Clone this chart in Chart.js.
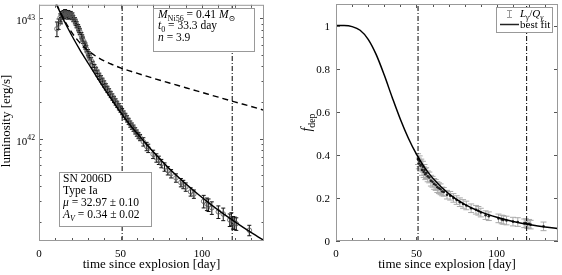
<!DOCTYPE html>
<html>
<head>
<meta charset="utf-8">
<script src="https://cdn.jsdelivr.net/npm/chart.js@4.4.1/dist/chart.umd.min.js"></script>
<style>
  body { margin: 0; background: #fff; }
  #wrap { position: relative; width: 562px; height: 275px; }
  canvas { position: absolute; top: 0; }
</style>
</head>
<body>
<div id="wrap">
  <canvas id="lumChart" width="280" height="275" style="left:0"></canvas>
  <canvas id="depChart" width="282" height="275" style="left:280px"></canvas>
</div>
<script>
// observed light curve (days since explosion, erg/s, relative error)
const lumTime = [11, 12, 13, 13.5, 14, 14.5, 15, 15.5, 16, 16.5,
  17, 17.5, 18, 18.5, 19, 19.5, 20, 20.5, 21, 22,
  22.5, 23, 24, 24.5, 25, 26, 26.5, 27, 28, 28.5,
  29, 30, 30.5, 31, 32, 33, 34, 35, 36, 37,
  38, 39, 40, 41, 42, 43, 44, 45, 46, 47,
  48, 49, 50, 51, 52, 53, 54, 55, 56, 57,
  58, 59, 60, 61, 62, 64, 66, 67, 70, 72,
  73.5, 75, 77, 79, 81, 84, 87, 88.5, 90, 93,
  95, 101, 103, 104, 106, 110, 113, 117, 118, 119,
  120, 121, 129];
const lumObs = [8.2e42, 9.0e42, 1.02e43, 9.6e42, 1.08e43, 1.05e43, 1.10e43, 1.06e43, 1.12e43, 1.08e43,
  1.10e43, 1.05e43, 1.10e43, 1.07e43, 1.06e43, 1.08e43, 1.04e43, 1.05e43, 1.00e43, 9.6e42,
  9.3e42, 8.9e42, 8.4e42, 8.1e42, 7.8e42, 7.2e42, 6.9e42, 6.6e42, 6.1e42, 5.9e42,
  5.6e42, 5.2e42, 5.0e42, 4.8e42, 4.45e42, 4.15e42, 3.9e42, 3.7e42, 3.5e42, 3.3e42,
  3.15e42, 3.0e42, 2.85e42, 2.7e42, 2.57e42, 2.45e42, 2.33e42, 2.22e42, 2.12e42, 2.02e42,
  1.93e42, 1.84e42, 1.76e42, 1.68e42, 1.6e42, 1.53e42, 1.46e42, 1.39e42, 1.32e42, 1.27e42,
  1.22e42, 1.16e42, 1.11e42, 1.06e42, 1.02e42, 9.4e41, 8.6e41, 8.3e41, 7.4e41, 6.9e41,
  6.6e41, 6.2e41, 5.8e41, 5.4e41, 5.1e41, 4.7e41, 4.3e41, 4.15e41, 3.95e41, 3.6e41,
  3.45e41, 3.0e41, 2.85e41, 2.8e41, 2.65e41, 2.45e41, 2.35e41, 2.1e41, 2.15e41, 2.0e41,
  1.98e41, 1.95e41, 1.72e41];
const lumErr = [0.14, 0.10, 0.07, 0.06, 0.06, 0.06, 0.06, 0.06, 0.06, 0.06,
  0.06, 0.06, 0.06, 0.06, 0.06, 0.06, 0.06, 0.06, 0.06, 0.06,
  0.06, 0.06, 0.06, 0.06, 0.06, 0.06, 0.06, 0.06, 0.06, 0.06,
  0.06, 0.06, 0.06, 0.06, 0.06, 0.06, 0.06, 0.06, 0.06, 0.06,
  0.06, 0.06, 0.06, 0.06, 0.06, 0.06, 0.06, 0.06, 0.06, 0.06,
  0.06, 0.06, 0.06, 0.06, 0.06, 0.06, 0.06, 0.06, 0.06, 0.06,
  0.06, 0.06, 0.06, 0.06, 0.06, 0.08, 0.08, 0.08, 0.08, 0.08,
  0.08, 0.08, 0.08, 0.08, 0.08, 0.08, 0.08, 0.08, 0.08, 0.08,
  0.08, 0.12, 0.12, 0.12, 0.12, 0.12, 0.12, 0.12, 0.12, 0.12,
  0.12, 0.12, 0.10];

// model curves
const fitTime = [0, 5, 10, 15, 20, 25, 30, 35, 40, 45, 50, 55, 60, 70, 80, 90, 100, 110, 120, 130, 140];
const fitLum = [3.24e43, 2.07e43, 1.385e43, 9.8e42, 7.25e42, 5.51e42, 4.27e42, 3.32e42, 2.60e42, 2.07e42,
  1.65e42, 1.34e42, 1.11e42, 7.75e41, 5.6e41, 4.2e41, 3.23e41, 2.53e41, 2.03e41, 1.65e41, 1.36e41];
const gammaLum = [3.24e43, 2.07e43, 1.39e43, 1.0e43, 7.69e42, 6.29e42, 5.41e42, 4.84e42, 4.43e42, 4.13e42,
  3.88e42, 3.68e42, 3.50e42, 3.18e42, 2.90e42, 2.65e42, 2.42e42, 2.21e42, 2.02e42, 1.85e42, 1.69e42];
const fitDep = [1, 0.9997, 0.995, 0.978, 0.936, 0.865, 0.770, 0.665, 0.565, 0.477,
  0.403, 0.342, 0.293, 0.220, 0.170, 0.135, 0.110, 0.091, 0.077, 0.065, 0.056];

// deposition fraction L_gamma / Q_gamma
const depTime = [51, 51.5, 52, 52.5, 53, 53.5, 54, 54.5, 55, 55.5,
  56, 57, 58, 59, 60, 61, 62, 63, 64, 65,
  66, 67, 69, 71, 73, 75, 77, 79, 81, 84,
  87, 88.5, 90, 93, 95, 101, 103, 104, 106, 110,
  113, 117, 118, 119, 120, 121, 129];
const depObs = [0.38, 0.36, 0.37, 0.35, 0.355, 0.33, 0.345, 0.32, 0.33, 0.31,
  0.315, 0.30, 0.295, 0.28, 0.275, 0.265, 0.26, 0.25, 0.245, 0.24,
  0.23, 0.228, 0.215, 0.21, 0.20, 0.19, 0.18, 0.172, 0.165, 0.152,
  0.145, 0.14, 0.132, 0.12, 0.115, 0.105, 0.10, 0.098, 0.095, 0.09,
  0.088, 0.082, 0.083, 0.078, 0.08, 0.076, 0.068];
const depErr = [0.025, 0.025, 0.025, 0.025, 0.025, 0.025, 0.025, 0.025, 0.025, 0.025,
  0.025, 0.025, 0.025, 0.025, 0.025, 0.025, 0.025, 0.025, 0.025, 0.025,
  0.02, 0.02, 0.02, 0.02, 0.02, 0.02, 0.02, 0.02, 0.02, 0.02,
  0.02, 0.02, 0.02, 0.02, 0.02, 0.02, 0.02, 0.02, 0.02, 0.02,
  0.02, 0.02, 0.02, 0.02, 0.02, 0.02, 0.02];

// vertical markers, axes and ticks
const markTimes = [51, 118.5];
const timeRange = [0, 138];
const lumRange = [1.4e41, 1.3e43];
const depRange = [0, 1.1];
const timeTicks = [0, 10, 20, 30, 40, 50, 60, 70, 80, 90, 100, 110, 120, 130];
const timeLabels = [0, 50, 100];
const lumTicks = [2e41, 3e41, 4e41, 5e41, 6e41, 7e41, 8e41, 9e41, 1e42,
  2e42, 3e42, 4e42, 5e42, 6e42, 7e42, 8e42, 9e42, 1e43];
const lumLabels = [1e42, 1e43];
const depTicks = [0, 0.2, 0.4, 0.6, 0.8, 1];

const serif = '"Liberation Serif", "DejaVu Serif", serif';
function ff(size, it) { return (it ? 'italic ' : '') + size + 'px ' + serif; }

function richWidth(ctx, parts, size) {
  let w = 0;
  parts.forEach(p => {
    ctx.font = ff(p.sub || p.sup ? size * 0.7 : size, p.it);
    w += ctx.measureText(p.t).width;
  });
  return w;
}
function rich(ctx, x, y, parts, size) {
  ctx.textAlign = 'left';
  ctx.textBaseline = 'alphabetic';
  parts.forEach(p => {
    ctx.font = ff(p.sub || p.sup ? size * 0.7 : size, p.it);
    const dy = p.sub ? size * 0.28 : (p.sup ? -size * 0.4 : 0);
    ctx.fillText(p.t, x, y + dy);
    x += ctx.measureText(p.t).width;
  });
  return x;
}
function box(ctx, x, y, w, h) {
  ctx.fillStyle = '#fff';
  ctx.fillRect(x, y, w, h);
  ctx.strokeStyle = '#999';
  ctx.lineWidth = 1;
  ctx.strokeRect(x + 0.5, y + 0.5, w - 1, h - 1);
  ctx.fillStyle = '#000';
}

function pts(xs, ys) { return xs.map((t, i) => ({ x: t, y: ys[i] })); }
function vline(t, range) {
  return {
    type: 'line', data: [{ x: t, y: range[0] }, { x: t, y: range[1] }],
    borderColor: '#000', borderWidth: 1, borderDash: [5, 2, 1, 2], pointRadius: 0
  };
}

function makeErrorBars(times, vals, lo, hi, color, cap) {
  return {
    id: 'errorBars',
    beforeDatasetsDraw(chart) {
      const { ctx, scales: { x, y } } = chart;
      ctx.save();
      ctx.strokeStyle = color;
      ctx.lineWidth = 1;
      ctx.beginPath();
      times.forEach((t, i) => {
        const px = x.getPixelForValue(t);
        const y1 = y.getPixelForValue(lo(vals[i], i));
        const y2 = y.getPixelForValue(hi(vals[i], i));
        ctx.moveTo(px, y1); ctx.lineTo(px, y2);
        ctx.moveTo(px - cap, y1); ctx.lineTo(px + cap, y1);
        ctx.moveTo(px - cap, y2); ctx.lineTo(px + cap, y2);
      });
      ctx.stroke();
      ctx.restore();
    }
  };
}

function makeFrame(isMajorY) {
  return {
    id: 'frame',
    afterDatasetsDraw(chart) {
      const { ctx, chartArea: a, scales: { x, y } } = chart;
      ctx.save();
      ctx.strokeStyle = '#555';
      ctx.lineWidth = 1;
      ctx.beginPath();
      x.ticks.forEach(t => {
        const px = Math.round(x.getPixelForValue(t.value)) + 0.5;
        const len = t.value % 50 === 0 ? 4 : 3;
        ctx.moveTo(px, a.bottom); ctx.lineTo(px, a.bottom - len);
        ctx.moveTo(px, a.top); ctx.lineTo(px, a.top + len);
      });
      y.ticks.forEach(t => {
        const py = Math.round(y.getPixelForValue(t.value)) + 0.5;
        const len = isMajorY(t.value) ? 4 : 2.5;
        ctx.moveTo(a.left, py); ctx.lineTo(a.left + len, py);
        ctx.moveTo(a.right, py); ctx.lineTo(a.right - len, py);
      });
      ctx.stroke();
      ctx.strokeStyle = '#999';
      ctx.strokeRect(a.left + 0.5, a.top + 0.5, a.right - a.left - 1, a.bottom - a.top - 1);
      ctx.restore();
    }
  };
}

function timeLabelsAndTitle(ctx, x, a) {
  ctx.fillStyle = '#000';
  ctx.font = ff(11);
  ctx.textAlign = 'center';
  ctx.textBaseline = 'alphabetic';
  timeLabels.forEach(v => ctx.fillText(String(v), x.getPixelForValue(v), 257));
  ctx.font = ff(13);
  ctx.fillText('time since explosion [day]', (a.left + a.right) / 2, 268);
}

const lumText = {
  id: 'lumText',
  afterDraw(chart) {
    const { ctx, chartArea: a, scales: { x, y } } = chart;
    ctx.save();
    ctx.fillStyle = '#000';
    lumLabels.forEach(v => {
      const parts = [{ t: '10' }, { t: String(Math.round(Math.log10(v))), sup: true }];
      rich(ctx, 35 - richWidth(ctx, parts, 11), y.getPixelForValue(v) + 6, parts, 11);
    });
    timeLabelsAndTitle(ctx, x, a);
    ctx.save();
    ctx.translate(10, (a.top + a.bottom) / 2 - 2);
    ctx.rotate(-Math.PI / 2);
    ctx.font = ff(13);
    ctx.textAlign = 'center';
    ctx.fillText('luminosity [erg/s]', 0, 0);
    ctx.restore();

    box(ctx, 153, 8, 102, 44);
    rich(ctx, 158, 17.5, [{ t: 'M', it: 1 }, { t: 'Ni56', sub: 1 }, { t: ' = 0.41 ' }, { t: 'M', it: 1 }, { t: '\u2299', sub: 1 }], 11.5);
    rich(ctx, 158, 29, [{ t: 't', it: 1 }, { t: '0', sub: 1 }, { t: ' = 33.3 day' }], 11.5);
    rich(ctx, 158, 41, [{ t: 'n', it: 1 }, { t: ' = 3.9' }], 11.5);

    box(ctx, 59, 172, 93, 55);
    rich(ctx, 63, 182, [{ t: 'SN 2006D' }], 11.5);
    rich(ctx, 63, 194, [{ t: 'Type Ia' }], 11.5);
    rich(ctx, 63, 206, [{ t: '\u03bc', it: 1 }, { t: ' = 32.97 \u00b1 0.10' }], 11.5);
    rich(ctx, 63, 218, [{ t: 'A', it: 1 }, { t: 'V', sub: 1, it: 1 }, { t: ' = 0.34 \u00b1 0.02' }], 11.5);
    ctx.restore();
  }
};

const depText = {
  id: 'depText',
  afterDraw(chart) {
    const { ctx, chartArea: a, scales: { x, y } } = chart;
    ctx.save();
    ctx.fillStyle = '#000';
    ctx.font = ff(11);
    ctx.textAlign = 'right';
    depTicks.forEach(v => ctx.fillText(String(Math.round(v * 10) / 10), a.left - 6, y.getPixelForValue(v) + 4));
    timeLabelsAndTitle(ctx, x, a);
    const fparts = [{ t: 'f', it: 1 }, { t: 'dep', sub: 1 }];
    ctx.save();
    ctx.translate(31, (a.top + a.bottom) / 2);
    ctx.rotate(-Math.PI / 2);
    rich(ctx, -richWidth(ctx, fparts, 14) / 2, 0, fparts, 14);
    ctx.restore();

    box(ctx, 216, 7, 57, 26);
    ctx.strokeStyle = '#999';
    ctx.beginPath();
    ctx.moveTo(229.5, 10); ctx.lineTo(229.5, 17.5);
    ctx.moveTo(227, 10.5); ctx.lineTo(232, 10.5);
    ctx.moveTo(227, 17.5); ctx.lineTo(232, 17.5);
    ctx.stroke();
    rich(ctx, 240, 17, [{ t: 'L', it: 1 }, { t: '\u03b3', sub: 1, it: 1 }, { t: '/' }, { t: 'Q', it: 1 }, { t: '\u03b3', sub: 1, it: 1 }], 11);
    ctx.strokeStyle = '#222';
    ctx.lineWidth = 1.5;
    ctx.beginPath();
    ctx.moveTo(220, 24.5); ctx.lineTo(239, 24.5);
    ctx.stroke();
    rich(ctx, 240, 28, [{ t: 'best fit' }], 11);
    ctx.restore();
  }
};

function timeAxis(width) {
  return {
    type: 'linear', min: timeRange[0], max: timeRange[1],
    grid: { display: false, drawTicks: false }, border: { display: false },
    ticks: { display: false, includeBounds: false },
    afterBuildTicks: s => { s.ticks = timeTicks.map(v => ({ value: v })); },
    afterFit: s => { s.height = 34; }
  };
}

// Luminosity panel
new Chart(document.getElementById('lumChart'), {
  type: 'scatter',
  data: {
    datasets: [
      { type: 'line', data: pts(fitTime, fitLum), borderColor: '#000', borderWidth: 1.4,
        pointRadius: 0, cubicInterpolationMode: 'monotone' },
      { type: 'line', data: pts(fitTime, gammaLum), borderColor: '#000', borderWidth: 1.4,
        borderDash: [6, 4], pointRadius: 0, cubicInterpolationMode: 'monotone' },
      vline(markTimes[0], lumRange),
      vline(markTimes[1], lumRange),
      { data: pts(lumTime, lumObs), pointStyle: 'circle', pointRadius: 2.3,
        borderColor: '#555', borderWidth: 0.8, backgroundColor: 'rgba(0,0,0,0)' }
    ]
  },
  options: {
    responsive: false, animation: false, devicePixelRatio: 1,
    layout: { padding: { left: 0, right: 16, top: 1, bottom: 0 } },
    plugins: { legend: { display: false }, tooltip: { enabled: false } },
    scales: {
      x: timeAxis(),
      y: {
        type: 'logarithmic', min: lumRange[0], max: lumRange[1],
        grid: { display: false, drawTicks: false }, border: { display: false },
        ticks: { display: false },
        afterBuildTicks: s => { s.ticks = lumTicks.map(v => ({ value: v })); },
        afterFit: s => { s.width = 39; }
      }
    }
  },
  plugins: [
    makeErrorBars(lumTime, lumObs, (v, i) => v * (1 - lumErr[i]), (v, i) => v * (1 + lumErr[i]), '#111', 2),
    makeFrame(v => lumLabels.includes(v)),
    lumText
  ]
});

// Deposition fraction panel
new Chart(document.getElementById('depChart'), {
  type: 'scatter',
  data: {
    datasets: [
      { type: 'line', data: pts(fitTime, fitDep), borderColor: '#000', borderWidth: 1.5,
        pointRadius: 0, cubicInterpolationMode: 'monotone' },
      vline(markTimes[0], depRange),
      vline(markTimes[1], depRange),
      { data: pts(depTime, depObs), pointStyle: 'circle', pointRadius: 1.3,
        borderWidth: 0, backgroundColor: '#222' }
    ]
  },
  options: {
    responsive: false, animation: false, devicePixelRatio: 1,
    layout: { padding: { left: 0, right: 1, top: 1, bottom: 0 } },
    plugins: { legend: { display: false }, tooltip: { enabled: false } },
    scales: {
      x: timeAxis(),
      y: {
        type: 'linear', min: depRange[0], max: depRange[1],
        grid: { display: false, drawTicks: false }, border: { display: false },
        ticks: { display: false, includeBounds: false },
        afterBuildTicks: s => { s.ticks = depTicks.map(v => ({ value: v })); },
        afterFit: s => { s.width = 56; }
      }
    }
  },
  plugins: [
    makeErrorBars(depTime, depObs, (v, i) => v - depErr[i], (v, i) => v + depErr[i], '#aaa', 3),
    makeFrame(() => true),
    depText
  ]
});
</script>
</body>
</html>
